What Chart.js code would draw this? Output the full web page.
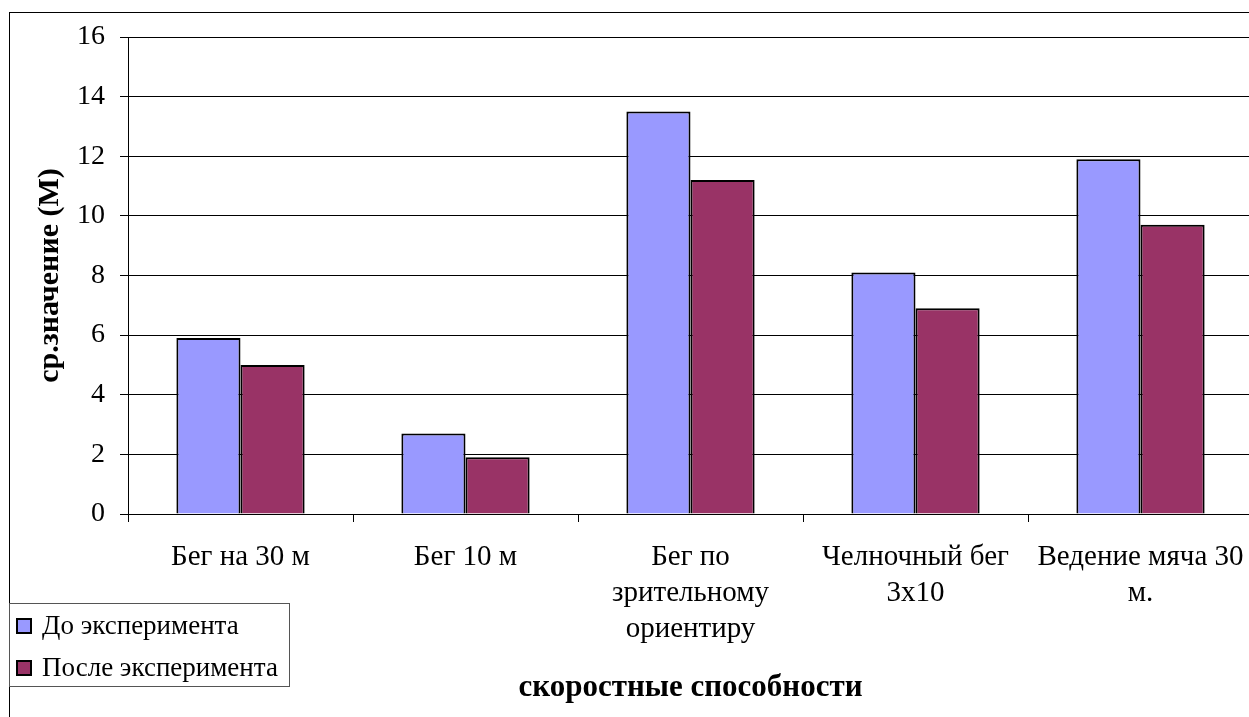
<!DOCTYPE html>
<html>
<head>
<meta charset="utf-8">
<script src="https://cdn.jsdelivr.net/npm/chart.js@4"></script>
<style>
	html, body { margin: 0; padding: 0; background: #fff; overflow: hidden; }
	#wrap { width: 1262px; height: 717px; position: relative; }
</style>
</head>
<body>
<div id="wrap"><canvas id="chart"></canvas></div>
<script>
// категории и значения
const categories = [
	"Бег на 30 м",
	"Бег 10 м",
	["Бег по", "зрительному", "ориентиру"],
	["Челночный бег", "3х10"],
	["Ведение мяча 30", "м."]
];
const before = [5.9, 2.7, 13.5, 8.1, 11.9]; // До эксперимента
const after = [5.0, 1.9, 11.2, 6.9, 9.7]; // После эксперимента
const yTicks = [0, 2, 4, 6, 8, 10, 12, 14, 16];

const FONT = "'Liberation Serif', 'Times New Roman', serif";

// рамка вокруг всей диаграммы
const frame = {
	id: 'frame',
	beforeDraw(chart) {
		const c = chart.ctx;
		c.save();
		c.fillStyle = '#fff';
		c.fillRect(0, 0, chart.width, chart.height);
		c.strokeStyle = '#000';
		c.lineWidth = 1;
		c.strokeRect(9.5, 12.5, chart.width + 20, chart.height + 20);
		c.restore();
	}
};

// легенда в левом нижнем углу
const boxLegend = {
	id: 'boxLegend',
	afterDraw(chart) {
		const c = chart.ctx;
		c.save();
		c.fillStyle = '#fff';
		c.fillRect(9, 603, 280, 83);
		c.strokeStyle = '#555';
		c.lineWidth = 1;
		c.strokeRect(9.5, 603.5, 280, 83);
		c.font = '27px ' + FONT;
		c.textBaseline = 'middle';
		chart.data.datasets.forEach((ds, i) => {
			const y = 626 + i * 42;
			c.fillStyle = ds.backgroundColor;
			c.fillRect(17, y - 7, 14, 14);
			c.strokeStyle = '#000';
			c.lineWidth = 2;
			c.strokeRect(17, y - 7, 14, 14);
			c.fillStyle = '#000';
			c.fillText(ds.label, 42, y + 1);
		});
		c.restore();
	}
};

new Chart(document.getElementById('chart'), {
	type: 'bar',
	data: {
		labels: categories,
		datasets: [
			{
				label: 'До эксперимента',
				data: before,
				backgroundColor: '#9999ff',
				borderColor: '#000',
				borderWidth: 2,
				categoryPercentage: 0.57,
				barPercentage: 1
			}, {
				label: 'После эксперимента',
				data: after,
				backgroundColor: '#993366',
				borderColor: '#000',
				borderWidth: 2,
				categoryPercentage: 0.57,
				barPercentage: 1
			}
		]
	},
	options: {
		responsive: true,
		maintainAspectRatio: false,
		animation: false,
		layout: { padding: { left: 0, right: 9, top: 37, bottom: 0 } },
		plugins: {
			legend: { display: false },
			tooltip: { enabled: false }
		},
		scales: {
			x: {
				afterFit(axis) { axis.height = 203; },
				grid: { drawOnChartArea: false, color: '#000', tickLength: 8, offset: true },
				border: { color: '#000', width: 1 },
				ticks: { color: '#000', font: { family: FONT, size: 29, lineHeight: 1.24 }, maxRotation: 0, autoSkip: false, padding: 17 },
				title: { display: true, text: 'скоростные способности', color: '#000', font: { family: FONT, size: 31, weight: 'bold' }, padding: { top: 0, bottom: 10 } }
			},
			y: {
				min: 0,
				max: 16,
				afterBuildTicks(axis) { axis.ticks = yTicks.map(v => ({ value: v })); },
				afterFit(axis) { axis.width = 128; },
				grid: { color: '#000', tickLength: 8, lineWidth: 1 },
				border: { color: '#000', width: 1 },
				ticks: { color: '#000', font: { family: FONT, size: 28 }, padding: 15 },
				title: { display: true, text: 'ср.значение (М)', color: '#000', font: { family: FONT, size: 30, weight: 'bold' }, padding: { top: 32, bottom: 0 } }
			}
		}
	},
	plugins: [frame, boxLegend]
});
</script>
</body>
</html>
